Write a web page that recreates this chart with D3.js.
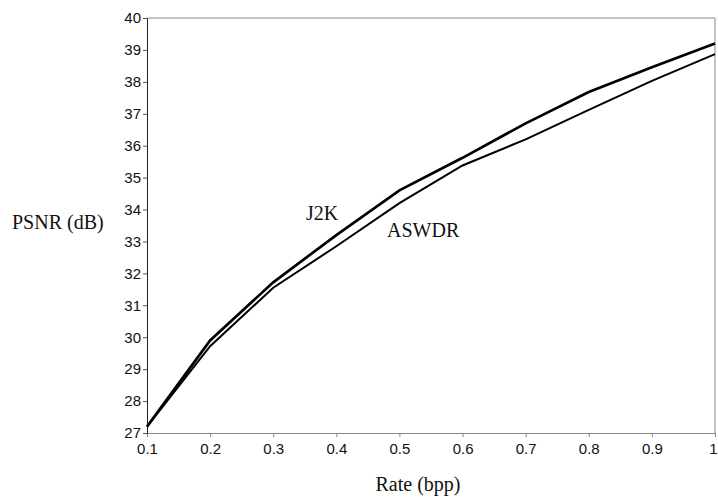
<!DOCTYPE html>
<html>
<head>
<meta charset="utf-8">
<script src="https://cdn.jsdelivr.net/npm/d3@7"></script>
<style>
  html, body { margin: 0; padding: 0; background: #fff; }
  svg { display: block; }
  .tick text { font-family: "Liberation Sans", Arial, sans-serif; font-size: 15px; fill: #111; }
  .title { font-family: "Liberation Serif", "Times New Roman", serif; font-size: 20px; fill: #111; }
</style>
</head>
<body>
<div id="chart"></div>
<script>
const rates = [0.1, 0.2, 0.3, 0.4, 0.5, 0.6, 0.7, 0.8, 0.9, 1.0];
const j2k = [27.2, 29.9, 31.72, 33.2, 34.6, 35.62, 36.7, 37.68, 38.46, 39.2];
const aswdr = [27.2, 29.72, 31.55, 32.85, 34.2, 35.38, 36.2, 37.12, 38.03, 38.87];
const xTicks = [0.1, 0.2, 0.3, 0.4, 0.5, 0.6, 0.7, 0.8, 0.9, 1];
const yTicks = [27, 28, 29, 30, 31, 32, 33, 34, 35, 36, 37, 38, 39, 40];

const W = 718, H = 498;
const margin = { top: 18, right: 3, bottom: 65, left: 147 };
const width = W - margin.left - margin.right;
const height = H - margin.top - margin.bottom;

const svg = d3.select('#chart')
  .append('svg')
  .attr('width', W)
  .attr('height', H);

const g = svg.append('g')
  .attr('transform', `translate(${margin.left},${margin.top})`);

const x = d3.scaleLinear().domain([0.1, 1]).range([0, width]);
const y = d3.scaleLinear().domain([27, 40]).range([height, 0]);

// frame (top/right gray)
g.append('line').attr('x1', 0).attr('x2', width).attr('y1', 0).attr('y2', 0)
  .attr('stroke', '#888').attr('stroke-width', 1);
g.append('line').attr('x1', width).attr('x2', width).attr('y1', 0).attr('y2', height)
  .attr('stroke', '#888').attr('stroke-width', 1);

// x axis
const xAxis = g.append('g')
  .attr('transform', `translate(0,${height})`)
  .call(d3.axisBottom(x).tickValues(xTicks).tickSize(4).tickPadding(6)
    .tickFormat(d => d === 1 ? '1' : d3.format('.1f')(d)));
xAxis.select('.domain').attr('stroke', '#888');
xAxis.selectAll('.tick line').attr('stroke', '#888');
// keep the last label inside the page
xAxis.selectAll('.tick text').filter(d => d === 1).attr('dx', -2);

// y axis
const yAxis = g.append('g')
  .call(d3.axisLeft(y).tickValues(yTicks).tickSize(4).tickPadding(2));
yAxis.select('.domain').attr('stroke', '#222');
yAxis.selectAll('.tick line').attr('stroke', '#555');

// lines
const line = vals => d3.line()
  .x((d, i) => x(rates[i]))
  .y(d => y(d))(vals);

g.append('path')
  .attr('d', line(aswdr))
  .attr('fill', 'none')
  .attr('stroke', '#000')
  .attr('stroke-width', 2);

g.append('path')
  .attr('d', line(j2k))
  .attr('fill', 'none')
  .attr('stroke', '#000')
  .attr('stroke-width', 2.7);

// series labels
svg.append('text').attr('class', 'title')
  .attr('x', 306).attr('y', 220).text('J2K');
svg.append('text').attr('class', 'title')
  .attr('x', 387).attr('y', 237).text('ASWDR');

// axis titles
svg.append('text').attr('class', 'title')
  .attr('x', 12).attr('y', 229).text('PSNR (dB)');
svg.append('text').attr('class', 'title')
  .attr('x', 418).attr('y', 491).attr('text-anchor', 'middle').text('Rate (bpp)');
</script>
</body>
</html>
